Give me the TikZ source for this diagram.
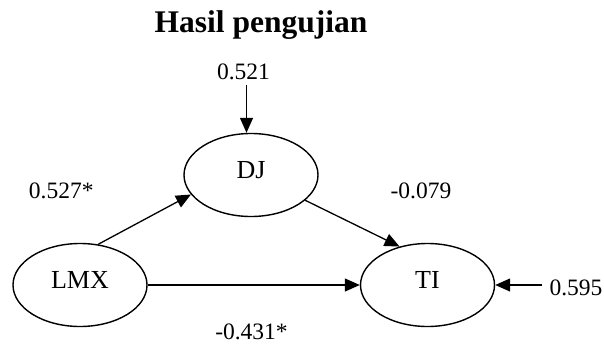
\documentclass[tikz,border=0pt]{standalone}
\usepackage{fontspec}
\setmainfont{Liberation Serif}
\usetikzlibrary{shapes.geometric,arrows.meta}
\begin{document}
\begin{tikzpicture}[x=1pt,y=-1pt,
  latent/.style={ellipse,draw,line width=1.4pt,minimum width=134pt,minimum height=83pt,
    inner sep=0pt,font=\fontsize{26}{28}\selectfont,text height=18pt,text depth=11pt},
  coef/.style={anchor=base,inner sep=0pt,font=\fontsize{23.5}{26}\selectfont},
  link/.style={line width=1.3pt,-{Triangle[length=15pt,width=13pt]}}
]
\useasboundingbox (0,0) rectangle (604,348);

% title
\node[anchor=base,inner sep=0pt,font=\bfseries\fontsize{31.5}{34}\selectfont] (title) at (261,32) {Hasil pengujian};

% latent variables
\node[latent] (DJ)  at (251,175)  {DJ};
\node[latent] (LMX) at (80,285)   {LMX};
\node[latent] (TI)  at (427.5,285) {TI};

% structural paths
\draw[link] (LMX.66) -- (DJ.198);
\draw[link] (DJ.335) -- (TI.126);
\draw[link] (LMX.east) -- (TI.west);

% error terms
\coordinate (eDJ) at (246.5,85);
\coordinate (eTI) at (542,285);
\draw[link] (eDJ) -- (eDJ |- DJ.north);
\draw[link] (eTI) -- (TI.east);

% coefficients
\node[coef] (cDJ)  at (243.5,79.3) {0.521};
\node[coef] (cTI)  at (576,295)    {0.595};
\node[coef] (cLD)  at (61.3,198.3) {0.527*};
\node[coef] (cDT)  at (421,198.3)  {-0.079};
\node[coef] (cLT)  at (251.5,339.5) {-0.431*};
\end{tikzpicture}
\end{document}
